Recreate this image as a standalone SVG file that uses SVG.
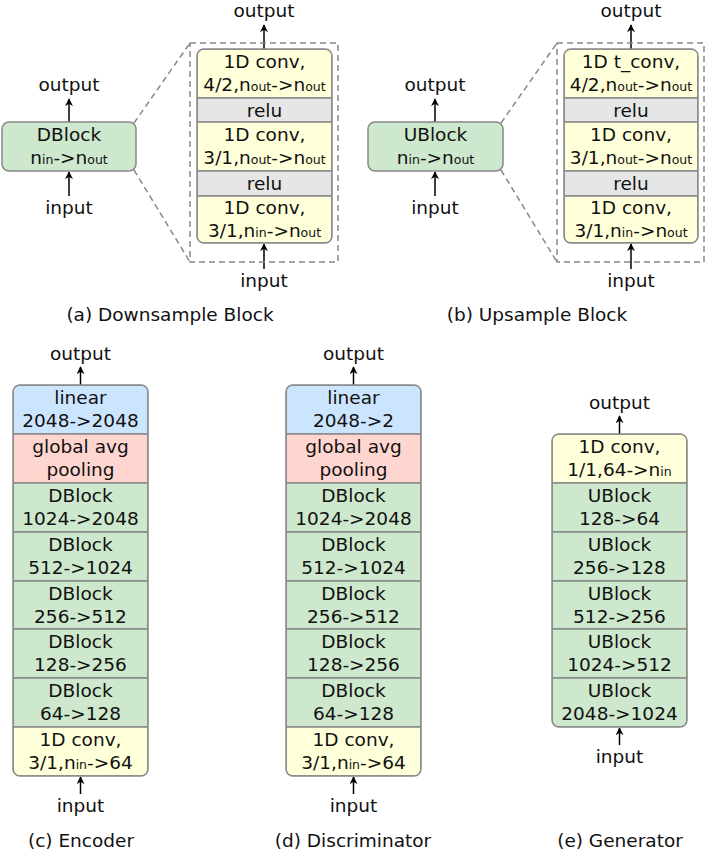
<svg xmlns="http://www.w3.org/2000/svg" width="706" height="856" viewBox="0 0 706 856">
<style>
text{font-family:"DejaVu Sans","Liberation Sans",sans-serif;font-size:18.5px;fill:#111;text-anchor:middle}
.s{font-size:12.5px}
.g{fill:#cde8cc}.y{fill:#ffffd9}.r{fill:#e6e6e6}.b{fill:#cce5ff}.p{fill:#ffd5d0}
.row{stroke:#888;stroke-width:1.5}
.frame{fill:none;stroke:#888;stroke-width:1.5}
.dash{fill:none;stroke:#888;stroke-width:1.5;stroke-dasharray:6 4}
</style>
<defs>
<marker id="a" viewBox="0 0 10 10" refX="9" refY="5" markerWidth="8" markerHeight="8" orient="auto" markerUnits="userSpaceOnUse"><path d="M0,0 L10,5 L0,10 L3,5 z" fill="#000"/></marker>
<clipPath id="cA"><rect x="197" y="49" width="135" height="194" rx="7"/></clipPath>
<clipPath id="cB"><rect x="564" y="49" width="134" height="194" rx="7"/></clipPath>
<clipPath id="cC"><rect x="13" y="385" width="135" height="391" rx="7"/></clipPath>
<clipPath id="cD"><rect x="286" y="385" width="135" height="391" rx="7"/></clipPath>
<clipPath id="cE"><rect x="552" y="434" width="135" height="293" rx="7"/></clipPath>
</defs>

<g id="connectors">
<g stroke="#000" stroke-width="1.5" fill="none" marker-end="url(#a)">
<line x1="69" y1="122" x2="69" y2="99"/>
<line x1="69" y1="196" x2="69" y2="172"/>
<line x1="264" y1="49" x2="264" y2="25"/>
<line x1="264" y1="269" x2="264" y2="244"/>
<line x1="435" y1="122" x2="435" y2="99"/>
<line x1="435" y1="196" x2="435" y2="172"/>
<line x1="631" y1="49" x2="631" y2="25"/>
<line x1="631" y1="269" x2="631" y2="244"/>
<line x1="80.5" y1="385" x2="80.5" y2="367"/>
<line x1="80.5" y1="794" x2="80.5" y2="777"/>
<line x1="353.5" y1="385" x2="353.5" y2="367"/>
<line x1="353.5" y1="794" x2="353.5" y2="777"/>
<line x1="619.5" y1="434" x2="619.5" y2="416"/>
<line x1="619.5" y1="745" x2="619.5" y2="728"/>
</g>
<line class="dash" x1="134" y1="123" x2="190" y2="43"/>
<line class="dash" x1="134" y1="170" x2="190" y2="262"/>
<line class="dash" x1="501" y1="123" x2="557" y2="43"/>
<line class="dash" x1="501" y1="170" x2="557" y2="262"/>
<rect class="dash" x="190" y="43" width="148" height="219"/>
<rect class="dash" x="557" y="43" width="147" height="219"/>
</g>

<g id="labels">
<text x="69" y="91">output</text>
<text x="69" y="214">input</text>
<text x="264" y="17">output</text>
<text x="264" y="287">input</text>
<text x="170" y="321">(a) Downsample Block</text>
<text x="435" y="91">output</text>
<text x="435" y="214">input</text>
<text x="631" y="17">output</text>
<text x="631" y="287">input</text>
<text x="537" y="321">(b) Upsample Block</text>
<text x="80.5" y="360">output</text>
<text x="80.5" y="812">input</text>
<text x="81" y="847">(c) Encoder</text>
<text x="353.5" y="360">output</text>
<text x="353.5" y="812">input</text>
<text x="353" y="847">(d) Discriminator</text>
<text x="619.5" y="409">output</text>
<text x="619.5" y="763">input</text>
<text x="620" y="847">(e) Generator</text>
</g>

<g id="dblock">
<rect x="2" y="122" width="134" height="49" rx="7" class="g" stroke="#888" stroke-width="1.5"/>
<text x="69" y="141">DBlock</text>
<text x="69" y="164">n<tspan class="s">in</tspan>-&gt;n<tspan class="s">out</tspan></text>
</g>
<g id="dblock-detail" clip-path="url(#cA)">
<g id="a1"><rect class="y row" x="197" y="49" width="135" height="49"/><text x="264.5" y="68">1D conv,</text><text x="264.5" y="91">4/2,n<tspan class="s">out</tspan>-&gt;n<tspan class="s">out</tspan></text></g>
<g id="a2"><rect class="r row" x="197" y="98" width="135" height="24"/><text x="264.5" y="117">relu</text></g>
<g id="a3"><rect class="y row" x="197" y="122" width="135" height="49"/><text x="264.5" y="141">1D conv,</text><text x="264.5" y="164">3/1,n<tspan class="s">out</tspan>-&gt;n<tspan class="s">out</tspan></text></g>
<g id="a4"><rect class="r row" x="197" y="171" width="135" height="25"/><text x="264.5" y="190">relu</text></g>
<g id="a5"><rect class="y row" x="197" y="196" width="135" height="47"/><text x="264.5" y="214">1D conv,</text><text x="264.5" y="237">3/1,n<tspan class="s">in</tspan>-&gt;n<tspan class="s">out</tspan></text></g>
</g>
<rect class="frame" x="197" y="49" width="135" height="194" rx="7"/>

<g id="ublock">
<rect x="368" y="122" width="135" height="49" rx="7" class="g" stroke="#888" stroke-width="1.5"/>
<text x="435.5" y="141">UBlock</text>
<text x="435.5" y="164">n<tspan class="s">in</tspan>-&gt;n<tspan class="s">out</tspan></text>
</g>
<g id="ublock-detail" clip-path="url(#cB)">
<g id="b1"><rect class="y row" x="564" y="49" width="134" height="49"/><text x="631" y="68">1D t_conv,</text><text x="631" y="91">4/2,n<tspan class="s">out</tspan>-&gt;n<tspan class="s">out</tspan></text></g>
<g id="b2"><rect class="r row" x="564" y="98" width="134" height="24"/><text x="631" y="117">relu</text></g>
<g id="b3"><rect class="y row" x="564" y="122" width="134" height="49"/><text x="631" y="141">1D conv,</text><text x="631" y="164">3/1,n<tspan class="s">out</tspan>-&gt;n<tspan class="s">out</tspan></text></g>
<g id="b4"><rect class="r row" x="564" y="171" width="134" height="25"/><text x="631" y="190">relu</text></g>
<g id="b5"><rect class="y row" x="564" y="196" width="134" height="47"/><text x="631" y="214">1D conv,</text><text x="631" y="237">3/1,n<tspan class="s">in</tspan>-&gt;n<tspan class="s">out</tspan></text></g>
</g>
<rect class="frame" x="564" y="49" width="134" height="194" rx="7"/>

<g id="encoder" clip-path="url(#cC)">
<g id="c1"><rect class="b row" x="13" y="385" width="135" height="49"/><text x="80.5" y="404">linear</text><text x="80.5" y="427">2048-&gt;2048</text></g>
<g id="c2"><rect class="p row" x="13" y="434" width="135" height="49"/><text x="80.5" y="453">global avg</text><text x="80.5" y="476">pooling</text></g>
<g id="c3"><rect class="g row" x="13" y="483" width="135" height="49"/><text x="80.5" y="502">DBlock</text><text x="80.5" y="525">1024-&gt;2048</text></g>
<g id="c4"><rect class="g row" x="13" y="532" width="135" height="49"/><text x="80.5" y="551">DBlock</text><text x="80.5" y="574">512-&gt;1024</text></g>
<g id="c5"><rect class="g row" x="13" y="581" width="135" height="48"/><text x="80.5" y="600">DBlock</text><text x="80.5" y="623">256-&gt;512</text></g>
<g id="c6"><rect class="g row" x="13" y="629" width="135" height="49"/><text x="80.5" y="648">DBlock</text><text x="80.5" y="671">128-&gt;256</text></g>
<g id="c7"><rect class="g row" x="13" y="678" width="135" height="49"/><text x="80.5" y="697">DBlock</text><text x="80.5" y="720">64-&gt;128</text></g>
<g id="c8"><rect class="y row" x="13" y="727" width="135" height="49"/><text x="80.5" y="746">1D conv,</text><text x="80.5" y="769">3/1,n<tspan class="s">in</tspan>-&gt;64</text></g>
</g>
<rect class="frame" x="13" y="385" width="135" height="391" rx="7"/>

<g id="discriminator" clip-path="url(#cD)">
<g id="d1"><rect class="b row" x="286" y="385" width="135" height="49"/><text x="353.5" y="404">linear</text><text x="353.5" y="427">2048-&gt;2</text></g>
<g id="d2"><rect class="p row" x="286" y="434" width="135" height="49"/><text x="353.5" y="453">global avg</text><text x="353.5" y="476">pooling</text></g>
<g id="d3"><rect class="g row" x="286" y="483" width="135" height="49"/><text x="353.5" y="502">DBlock</text><text x="353.5" y="525">1024-&gt;2048</text></g>
<g id="d4"><rect class="g row" x="286" y="532" width="135" height="49"/><text x="353.5" y="551">DBlock</text><text x="353.5" y="574">512-&gt;1024</text></g>
<g id="d5"><rect class="g row" x="286" y="581" width="135" height="48"/><text x="353.5" y="600">DBlock</text><text x="353.5" y="623">256-&gt;512</text></g>
<g id="d6"><rect class="g row" x="286" y="629" width="135" height="49"/><text x="353.5" y="648">DBlock</text><text x="353.5" y="671">128-&gt;256</text></g>
<g id="d7"><rect class="g row" x="286" y="678" width="135" height="49"/><text x="353.5" y="697">DBlock</text><text x="353.5" y="720">64-&gt;128</text></g>
<g id="d8"><rect class="y row" x="286" y="727" width="135" height="49"/><text x="353.5" y="746">1D conv,</text><text x="353.5" y="769">3/1,n<tspan class="s">in</tspan>-&gt;64</text></g>
</g>
<rect class="frame" x="286" y="385" width="135" height="391" rx="7"/>

<g id="generator" clip-path="url(#cE)">
<g id="e1"><rect class="y row" x="552" y="434" width="135" height="49"/><text x="619.5" y="453">1D conv,</text><text x="619.5" y="476">1/1,64-&gt;n<tspan class="s">in</tspan></text></g>
<g id="e2"><rect class="g row" x="552" y="483" width="135" height="49"/><text x="619.5" y="502">UBlock</text><text x="619.5" y="525">128-&gt;64</text></g>
<g id="e3"><rect class="g row" x="552" y="532" width="135" height="49"/><text x="619.5" y="551">UBlock</text><text x="619.5" y="574">256-&gt;128</text></g>
<g id="e4"><rect class="g row" x="552" y="581" width="135" height="48"/><text x="619.5" y="600">UBlock</text><text x="619.5" y="623">512-&gt;256</text></g>
<g id="e5"><rect class="g row" x="552" y="629" width="135" height="49"/><text x="619.5" y="648">UBlock</text><text x="619.5" y="671">1024-&gt;512</text></g>
<g id="e6"><rect class="g row" x="552" y="678" width="135" height="49"/><text x="619.5" y="697">UBlock</text><text x="619.5" y="720">2048-&gt;1024</text></g>
</g>
<rect class="frame" x="552" y="434" width="135" height="293" rx="7"/>
</svg>
